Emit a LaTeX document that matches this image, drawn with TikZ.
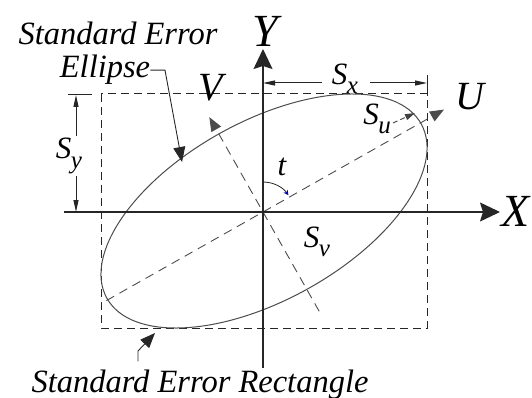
\documentclass[tikz,border=0pt]{standalone}
\usepackage{fontspec}
\setmainfont{Liberation Serif}
\usetikzlibrary{arrows.meta,calc}
\newcommand\Slab[1]{S\kern-0.5pt\raisebox{-0.3em}{\fontsize{25}{25}\selectfont #1}}
\begin{document}
\begin{tikzpicture}[x=1pt,y=1pt,
  txt/.style={font=\fontsize{32.5}{34}\selectfont\itshape, inner sep=0pt, anchor=base},
  axlbl/.style={font=\fontsize{46}{46}\selectfont\itshape, inner sep=0pt},
  uvlbl/.style={font=\fontsize{40}{40}\selectfont\itshape, inner sep=0pt},
  slbl/.style={font=\fontsize{31}{31}\selectfont\itshape, inner sep=0pt},
  axisline/.style={line width=1.3pt, draw=black!85},
  bigtip/.style={-{Stealth[length=20pt,width=19pt,inset=3pt]}},
  dimline/.style={line width=1pt, draw=black!85},
  dimtip/.style={-{Triangle[length=12pt,width=5pt]}},
  rectdash/.style={line width=1pt, draw=black!85, dash pattern=on 8pt off 5pt},
  axdash/.style={line width=0.9pt, draw=black!70, dash pattern=on 9pt off 6pt},
  uvtip/.style={-{Triangle[length=14pt,width=11pt]}},
  ellstyle/.style={line width=1pt, draw=black!70},
  leader/.style={line width=0.9pt, draw=black!85, -{Triangle[length=15pt,width=12pt]}},
]
\useasboundingbox (0,0) rectangle (532,-398);
\coordinate (O) at (263,-212);
\coordinate (C) at (264,-211);

% standard error rectangle
\draw[rectdash] (101,-94) rectangle (427,-328);

% ellipse
\draw[ellstyle, rotate around={29:(C)}] (C) ellipse [x radius=179.7, y radius=89.3];

% U and V axes
\coordinate (Uend) at ($(O)+(209.5:180)$);
\coordinate (Utip) at ($(O)+(29.5:208)$);
\coordinate (Vend) at ($(O)+(-60.5:114)$);
\coordinate (Vtip) at ($(O)+(119.5:109)$);
\draw[axdash, uvtip] (Uend) -- (Utip);
\draw[axdash, uvtip] (Vend) -- (Vtip);
\node[uvlbl] (U) at (470,-97) {U};
\node[uvlbl] (V) at (211,-88) {V};

% X and Y axes
\coordinate (xl) at (64,-212);
\coordinate (xr) at (500,-212);
\coordinate (yb) at (263,-368);
\coordinate (yt) at (263,-49);
\draw[axisline, bigtip] (xl) -- (xr);
\draw[axisline, bigtip] (yb) -- (yt);
\node[axlbl] (X) at (516,-211) {X};
\node[axlbl] (Y) at (265,-31) {Y};

% S_x dimension
\coordinate (sxL) at (263,-83);
\coordinate (sxR) at (427,-83);
\node[slbl] (sx) at (345,-79) {\Slab{x}};
\draw[dimline, dimtip, shorten <=10pt] (sx.west |- sxL) -- (sxL);
\draw[dimline, dimtip, shorten <=12pt] (sx.east |- sxR) -- (sxR);
\draw[dimline] (427,-75) -- (427,-96);

% S_y dimension
\coordinate (syT) at (76,-95);
\coordinate (syB) at (76,-212);
\node[slbl] (sy) at (69,-156) {\Slab{y}};
\draw[dimline, dimtip, shorten <=2pt] (syT |- sy.north) -- (syT);
\draw[dimline, dimtip, shorten <=2pt] (syB |- sy.south) -- (syB);
\draw[dimline] (68,-95) -- (92,-95);

% S_u and S_v
\node[slbl] (su) at (377,-119) {\Slab{u}};
\coordinate (suTip) at (415,-113);
\draw[line width=0.9pt, draw=black!75, dash pattern=on 5pt off 3pt, -{Triangle[length=10pt,width=6pt]}] ([xshift=2pt,yshift=-4pt]su.east) -- (suTip);
\node[slbl] (sv) at (317,-242) {\Slab{v}};

% angle t
\node[slbl] (t) at (282,-167) {t};
\draw[line width=0.8pt, draw=black!85, -{Stealth[length=5pt,width=5pt,color=blue!70!black]}] (263,-182) arc[start angle=90, end angle=35, radius=31];

% labels with leaders
\node[txt] (se) at (118,-45) {Standard Error};
\node[txt] (ell) at (105,-78) {Ellipse};
\coordinate (ellB) at (165,-68);
\coordinate (ellTip) at (182,-162);
\draw[leader] (ell.east) -- (ell.east -| ellB) -- (ellTip);

\node[txt] (rl) at (200,-392) {Standard Error Rectangle};
\coordinate (rlB) at (138,-351);
\coordinate (rlTip) at (155,-333);
\draw[leader, shorten <=8pt] (rl.north -| rlB) -- (rlB) -- (rlTip);
\end{tikzpicture}
\end{document}
